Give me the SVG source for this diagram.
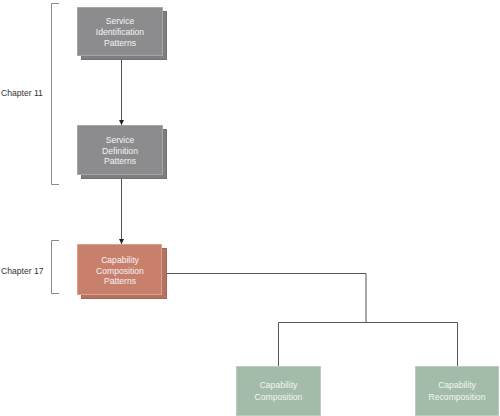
<svg xmlns="http://www.w3.org/2000/svg" width="500" height="416" viewBox="0 0 500 416">
<defs>
<style>
.t{font-family:"Liberation Sans",Arial,sans-serif;font-size:8.6px;fill:#f4f4f4;text-anchor:middle}
.ch{font-family:"Liberation Sans",Arial,sans-serif;font-size:8.6px;fill:#333}
.gb{fill:#7e7e80;stroke:#707072;stroke-width:1}
.gf{fill:#8c8c8e;stroke:#a6a6a8;stroke-width:1}
.rb{fill:#b87160;stroke:#a86452;stroke-width:1}
.rf{fill:#c8806d;stroke:#dba18f;stroke-width:1}
.nf{fill:#a3bca9;stroke:#bccdc0;stroke-width:1}
.br{fill:none;stroke:#8a8a8a;stroke-width:1}
.ln{fill:none;stroke:#555;stroke-width:1}
</style>
<marker id="ah" markerWidth="6" markerHeight="6" refX="5" refY="3" orient="auto" markerUnits="userSpaceOnUse">
<path d="M0,0.5 L5,3 L0,5.5 Z" fill="#222"/>
</marker>
</defs>
<rect width="500" height="416" fill="#fff"/>
<g id="brackets">
<path class="br" d="M59,3.5 H51.5 V184.5 H59"/>
<text class="ch" x="1" y="96">Chapter 11</text>
<path class="br" d="M59,240.5 H51.5 V293.5 H59"/>
<text class="ch" x="1" y="274">Chapter 17</text>
</g>
<g id="connectors">
<line class="ln" x1="121.5" y1="55" x2="121.5" y2="125" marker-end="url(#ah)"/>
<line class="ln" x1="121.5" y1="174" x2="121.5" y2="244" marker-end="url(#ah)"/>
<path class="ln" d="M161,273.5 H366 V322.5 M278.5,366 V322.5 H457.5 V366"/>
</g>
<g id="n1">
<rect class="gb" x="81.5" y="11.5" width="85" height="48"/>
<rect class="gf" x="77.5" y="7.5" width="85" height="48"/>
<text class="t" x="120" y="24">Service</text>
<text class="t" x="120" y="35">Identification</text>
<text class="t" x="120" y="46">Patterns</text>
</g>
<g id="n2">
<rect class="gb" x="81.5" y="129.5" width="85" height="49"/>
<rect class="gf" x="77.5" y="125.5" width="85" height="49"/>
<text class="t" x="120" y="143">Service</text>
<text class="t" x="120" y="153.5">Definition</text>
<text class="t" x="120" y="164">Patterns</text>
</g>
<g id="n3">
<rect class="rb" x="81.5" y="248.5" width="85" height="50"/>
<rect class="rf" x="77.5" y="244.5" width="84" height="50"/>
<text class="t" x="120" y="263">Capability</text>
<text class="t" x="120" y="273.5">Composition</text>
<text class="t" x="120" y="284">Patterns</text>
</g>
<g id="n4">
<rect class="nf" x="236.5" y="366.5" width="84" height="49"/>
<text class="t" x="278.5" y="388">Capability</text>
<text class="t" x="278.5" y="399.5">Composition</text>
</g>
<g id="n5">
<rect class="nf" x="415.5" y="366.5" width="83" height="49"/>
<text class="t" x="457" y="388">Capability</text>
<text class="t" x="457" y="399.5">Recomposition</text>
</g>
</svg>
